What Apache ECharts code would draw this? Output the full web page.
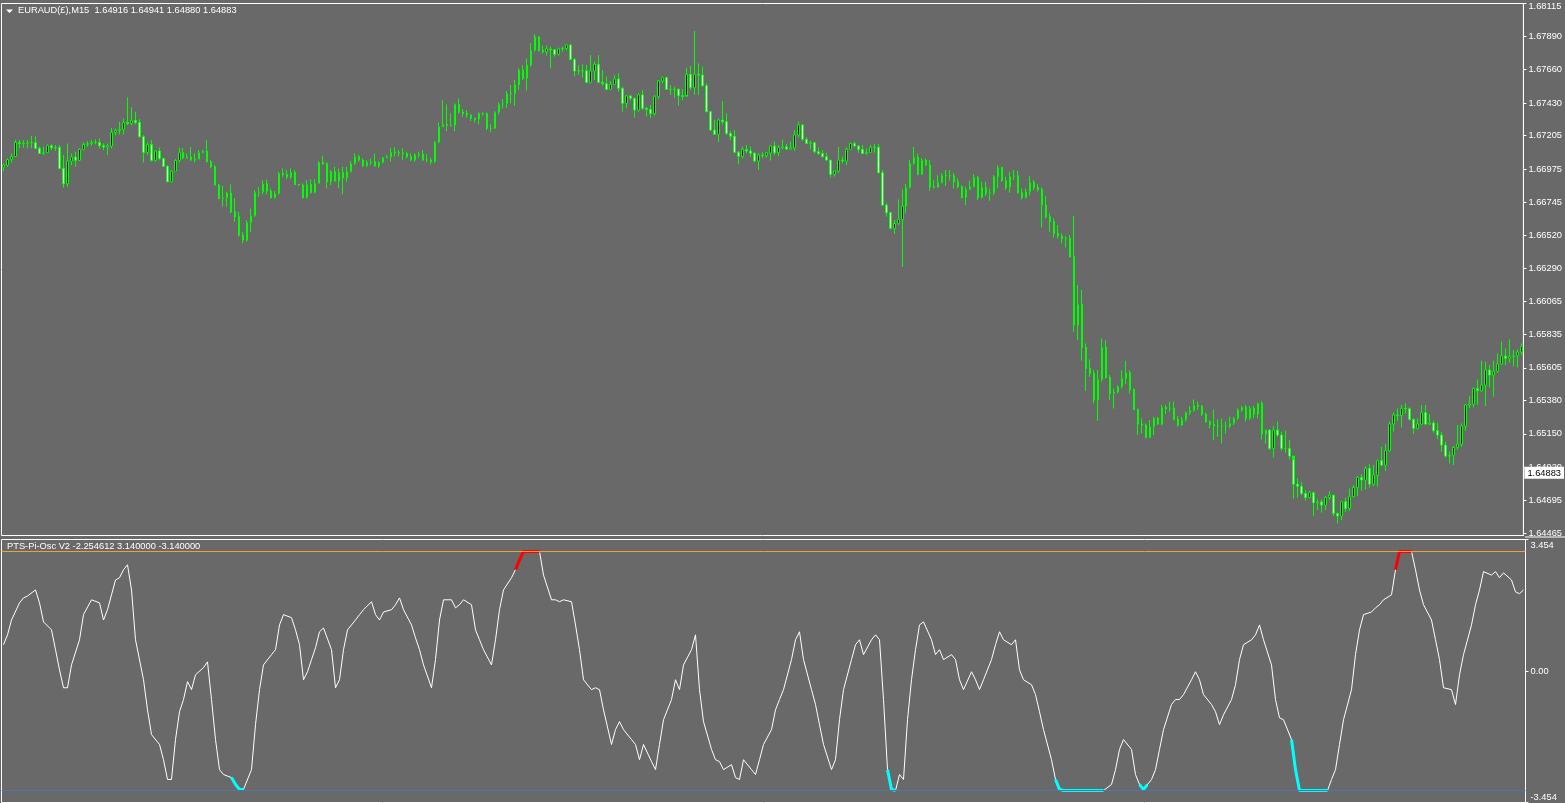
<!DOCTYPE html>
<html><head><meta charset="utf-8">
<script src="https://cdn.jsdelivr.net/npm/echarts@6/dist/echarts.min.js"></script>
<style>html,body{margin:0;padding:0;background:#696969;overflow:hidden}#c{width:1565px;height:803px}</style>
</head><body><div id="c"></div>
<script>
const symbolTitle = 'EURAUD(\u00a3),M15  1.64916 1.64941 1.64880 1.64883';
const oscTitle = 'PTS-Pi-Osc V2 -2.254612 3.140000 -3.140000';
const priceTickLabels = ['1.68115','1.67890','1.67660','1.67430','1.67205','1.66975','1.66745','1.66520','1.66290','1.66065','1.65835','1.65605','1.65380','1.65150','1.64920','1.64695','1.64465'];
const oscTickLabels = ['3.454','0.00','-3.454'];
const oscTickValues = [3.454, 0, -3.454];
const oscLevels = [3.14, -3.14];
const lastPrice = 1.64883;
const firstOpen = 1.66986;

const closes = [
1.67002,1.67039,1.67061,1.67158,1.67151,1.67151,1.67156,1.67156,1.67117,1.67082,
1.67087,1.67135,1.67121,1.67123,1.66979,1.66873,1.67029,1.67057,1.67034,1.67110,
1.67144,1.67151,1.67158,1.67158,1.67135,1.67126,1.67133,1.67227,1.67241,1.67248,
1.67296,1.67289,1.67310,1.67296,1.67197,1.67089,1.67144,1.67034,1.67098,1.67048,
1.66993,1.66887,1.66960,1.67034,1.67087,1.67052,1.67057,1.67036,1.67043,1.67087,
1.67098,1.67025,1.66990,1.66864,1.66772,1.66777,1.66809,1.66680,1.66646,1.66519,
1.66485,1.66607,1.66653,1.66813,1.66818,1.66873,1.66823,1.66777,1.66804,1.66944,
1.66937,1.66919,1.66951,1.66868,1.66864,1.66777,1.66868,1.66813,1.66875,1.67020,
1.67011,1.66887,1.66956,1.66892,1.66951,1.66914,1.66956,1.67013,1.67059,1.67036,
1.66997,1.67020,1.67025,1.66997,1.67020,1.67052,1.67059,1.67090,1.67087,1.67085,
1.67080,1.67060,1.67037,1.67071,1.67076,1.67037,1.67037,1.67025,1.67159,1.67266,
1.67282,1.67276,1.67278,1.67420,1.67365,1.67358,1.67347,1.67324,1.67317,1.67358,
1.67356,1.67255,1.67255,1.67365,1.67420,1.67425,1.67496,1.67494,1.67554,1.67657,
1.67600,1.67691,1.67792,1.67884,1.67792,1.67783,1.67802,1.67797,1.67765,1.67802,
1.67806,1.67829,1.67730,1.67650,1.67652,1.67652,1.67572,1.67650,1.67696,1.67572,
1.67563,1.67524,1.67558,1.67595,1.67531,1.67427,1.67478,1.67462,1.67381,1.67485,
1.67393,1.67386,1.67356,1.67473,1.67581,1.67604,1.67524,1.67524,1.67524,1.67480,
1.67475,1.67627,1.67535,1.67627,1.67622,1.67549,1.67370,1.67243,1.67214,1.67312,
1.67301,1.67220,1.67200,1.67090,1.67062,1.67110,1.67099,1.67083,1.67030,1.67071,
1.67067,1.67085,1.67133,1.67087,1.67124,1.67128,1.67112,1.67121,1.67209,1.67278,
1.67179,1.67151,1.67156,1.67094,1.67082,1.67059,1.67036,1.66938,1.66961,1.67036,
1.67030,1.67110,1.67151,1.67133,1.67110,1.67082,1.67089,1.67124,1.67124,1.66949,
1.66726,1.66674,1.66566,1.66600,1.66628,1.66719,1.66848,1.67013,1.67055,1.66938,
1.67036,1.67002,1.66853,1.66850,1.66880,1.66931,1.66928,1.66928,1.66887,1.66853,
1.66779,1.66834,1.66853,1.66917,1.66779,1.66848,1.66807,1.66811,1.66922,1.66986,
1.66894,1.66848,1.66922,1.66928,1.66811,1.66779,1.66818,1.66880,1.66848,1.66834,
1.66726,1.66646,1.66612,1.66531,1.66513,1.66494,1.66499,1.66370,1.65899,1.66042,
1.65746,1.65601,1.65566,1.65383,1.65525,1.65746,1.65539,1.65429,1.65438,1.65475,
1.65532,1.65571,1.65456,1.65318,1.65218,1.65211,1.65126,1.65199,1.65257,1.65218,
1.65332,1.65323,1.65326,1.65250,1.65211,1.65250,1.65296,1.65310,1.65346,1.65339,
1.65287,1.65234,1.65215,1.65204,1.65204,1.65204,1.65204,1.65222,1.65257,1.65314,
1.65332,1.65257,1.65326,1.65287,1.65360,1.65149,1.65176,1.65050,1.65176,1.65142,
1.65050,1.65050,1.64997,1.64804,1.64790,1.64740,1.64712,1.64744,1.64676,1.64682,
1.64659,1.64712,1.64728,1.64602,1.64584,1.64682,1.64636,1.64717,1.64781,1.64850,
1.64832,1.64912,1.64804,1.64866,1.64965,1.64935,1.65034,1.65218,1.65280,1.65277,
1.65326,1.65323,1.65250,1.65188,1.65218,1.65296,1.65218,1.65225,1.65172,1.65142,
1.65073,1.64997,1.65002,1.65057,1.65080,1.65204,1.65349,1.65356,1.65463,1.65447,
1.65486,1.65590,1.65555,1.65581,1.65631,1.65686,1.65670,1.65682,1.65688,1.65714,1.65751];

const highs = [
1.67013,1.67048,1.67082,1.67174,1.67174,1.67174,1.67174,1.67202,1.67202,1.67128,
1.67128,1.67144,1.67144,1.67140,1.67140,1.67071,1.67151,1.67082,1.67094,1.67117,
1.67158,1.67167,1.67174,1.67179,1.67186,1.67151,1.67151,1.67259,1.67254,1.67300,
1.67323,1.67468,1.67401,1.67369,1.67319,1.67208,1.67158,1.67174,1.67105,1.67123,
1.67052,1.67002,1.66967,1.67043,1.67121,1.67121,1.67082,1.67126,1.67082,1.67105,
1.67105,1.67174,1.67036,1.67002,1.66873,1.66859,1.66818,1.66868,1.66772,1.66680,
1.66542,1.66623,1.66703,1.66829,1.66852,1.66898,1.66901,1.66841,1.66823,1.66956,
1.66979,1.66967,1.66979,1.66967,1.66868,1.66875,1.66898,1.66905,1.66905,1.67029,
1.67066,1.67020,1.66967,1.66990,1.66979,1.66990,1.66990,1.67029,1.67082,1.67071,
1.67048,1.67036,1.67048,1.67082,1.67029,1.67059,1.67071,1.67122,1.67126,1.67106,
1.67117,1.67094,1.67083,1.67083,1.67094,1.67106,1.67076,1.67053,1.67168,1.67296,
1.67450,1.67420,1.67358,1.67427,1.67462,1.67388,1.67381,1.67351,1.67328,1.67365,
1.67365,1.67365,1.67282,1.67374,1.67434,1.67457,1.67512,1.67554,1.67588,1.67668,
1.67691,1.67737,1.67841,1.67903,1.67891,1.67825,1.67825,1.67818,1.67802,1.67811,
1.67818,1.67834,1.67834,1.67737,1.67691,1.67696,1.67691,1.67760,1.67714,1.67760,
1.67657,1.67611,1.67581,1.67622,1.67634,1.67542,1.67485,1.67485,1.67466,1.67496,
1.67519,1.67404,1.67416,1.67485,1.67588,1.67611,1.67611,1.67554,1.67542,1.67531,
1.67526,1.67673,1.67687,1.67926,1.67703,1.67680,1.67565,1.67374,1.67312,1.67324,
1.67443,1.67358,1.67237,1.67243,1.67099,1.67129,1.67140,1.67129,1.67094,1.67083,
1.67090,1.67094,1.67140,1.67163,1.67140,1.67179,1.67147,1.67163,1.67243,1.67301,
1.67285,1.67193,1.67170,1.67163,1.67124,1.67105,1.67087,1.67036,1.66968,1.67128,
1.67059,1.67124,1.67156,1.67163,1.67140,1.67140,1.67117,1.67140,1.67147,1.67147,
1.66968,1.66742,1.66680,1.66623,1.66765,1.66834,1.66871,1.67036,1.67128,1.67082,
1.67048,1.67048,1.67036,1.66899,1.66933,1.66945,1.66968,1.66968,1.66949,1.66910,
1.66864,1.66853,1.66894,1.66940,1.66926,1.66887,1.66887,1.66841,1.66933,1.67002,
1.66990,1.66922,1.66956,1.66968,1.66963,1.66841,1.66841,1.66926,1.66899,1.66871,
1.66848,1.66788,1.66669,1.66635,1.66589,1.66531,1.66513,1.66520,1.66651,1.66175,
1.66141,1.65773,1.65663,1.65589,1.65589,1.65808,1.65796,1.65555,1.65463,1.65486,
1.65589,1.65654,1.65589,1.65463,1.65326,1.65257,1.65222,1.65245,1.65268,1.65268,
1.65349,1.65349,1.65372,1.65372,1.65273,1.65268,1.65303,1.65342,1.65388,1.65372,
1.65349,1.65296,1.65245,1.65319,1.65250,1.65257,1.65234,1.65268,1.65268,1.65326,
1.65342,1.65349,1.65342,1.65342,1.65365,1.65376,1.65181,1.65181,1.65204,1.65234,
1.65165,1.65172,1.65107,1.64970,1.64843,1.64820,1.64763,1.64758,1.64751,1.64699,
1.64699,1.64722,1.64756,1.64728,1.64607,1.64689,1.64712,1.64774,1.64797,1.64859,
1.64873,1.64928,1.64942,1.64935,1.64974,1.65061,1.65080,1.65234,1.65296,1.65326,
1.65349,1.65360,1.65332,1.65257,1.65257,1.65349,1.65349,1.65287,1.65241,1.65227,
1.65165,1.65096,1.65027,1.65066,1.65211,1.65222,1.65356,1.65411,1.65470,1.65525,
1.65654,1.65647,1.65624,1.65654,1.65705,1.65785,1.65739,1.65801,1.65728,1.65732,1.65774];

const lows = [
1.66960,1.66990,1.67020,1.67059,1.67117,1.67121,1.67117,1.67117,1.67112,1.67078,
1.67071,1.67089,1.67105,1.67100,1.66974,1.66846,1.66852,1.67002,1.66990,1.67029,
1.67103,1.67128,1.67135,1.67144,1.67117,1.67105,1.67071,1.67117,1.67208,1.67213,
1.67213,1.67277,1.67277,1.67282,1.67190,1.67020,1.67071,1.67025,1.67025,1.67034,
1.66988,1.66882,1.66882,1.66960,1.67020,1.67043,1.67048,1.67029,1.67020,1.67043,
1.67082,1.67020,1.66979,1.66859,1.66767,1.66715,1.66715,1.66669,1.66611,1.66508,
1.66462,1.66473,1.66542,1.66646,1.66784,1.66800,1.66800,1.66772,1.66772,1.66800,
1.66921,1.66905,1.66905,1.66864,1.66859,1.66772,1.66772,1.66806,1.66806,1.66875,
1.67002,1.66841,1.66864,1.66887,1.66841,1.66800,1.66887,1.66951,1.67002,1.67025,
1.66990,1.66990,1.67002,1.66990,1.66983,1.67013,1.67048,1.67025,1.67060,1.67060,
1.67037,1.67048,1.67030,1.67025,1.67053,1.67030,1.67021,1.67007,1.67016,1.67152,
1.67266,1.67235,1.67266,1.67235,1.67358,1.67335,1.67328,1.67305,1.67296,1.67282,
1.67342,1.67243,1.67227,1.67250,1.67351,1.67393,1.67397,1.67427,1.67411,1.67519,
1.67588,1.67515,1.67680,1.67783,1.67783,1.67769,1.67756,1.67668,1.67749,1.67756,
1.67783,1.67792,1.67726,1.67611,1.67622,1.67604,1.67565,1.67565,1.67588,1.67565,
1.67549,1.67517,1.67519,1.67554,1.67508,1.67370,1.67393,1.67450,1.67328,1.67370,
1.67381,1.67335,1.67324,1.67342,1.67457,1.67565,1.67519,1.67485,1.67466,1.67411,
1.67450,1.67485,1.67519,1.67485,1.67485,1.67542,1.67365,1.67237,1.67209,1.67159,
1.67282,1.67209,1.67175,1.67083,1.67007,1.67048,1.67083,1.67060,1.67021,1.66968,
1.67048,1.67053,1.67032,1.67071,1.67064,1.67110,1.67105,1.67110,1.67101,1.67193,
1.67170,1.67147,1.67110,1.67082,1.67071,1.67055,1.67032,1.66917,1.66922,1.66949,
1.67013,1.67002,1.67105,1.67124,1.67087,1.67078,1.67071,1.67087,1.67087,1.66945,
1.66720,1.66646,1.66559,1.66527,1.66589,1.66301,1.66669,1.66841,1.67002,1.66931,
1.66933,1.66995,1.66825,1.66841,1.66848,1.66880,1.66857,1.66894,1.66841,1.66841,
1.66772,1.66726,1.66830,1.66848,1.66761,1.66772,1.66788,1.66756,1.66795,1.66841,
1.66887,1.66830,1.66811,1.66899,1.66807,1.66765,1.66772,1.66795,1.66830,1.66818,
1.66572,1.66635,1.66543,1.66504,1.66497,1.66462,1.66435,1.66366,1.65854,1.65796,
1.65654,1.65447,1.65543,1.65360,1.65240,1.65509,1.65532,1.65383,1.65325,1.65429,
1.65463,1.65493,1.65429,1.65314,1.65142,1.65153,1.65119,1.65119,1.65142,1.65211,
1.65211,1.65286,1.65303,1.65241,1.65199,1.65204,1.65234,1.65280,1.65303,1.65314,
1.65273,1.65227,1.65188,1.65107,1.65130,1.65084,1.65153,1.65188,1.65211,1.65245,
1.65303,1.65234,1.65245,1.65257,1.65257,1.65112,1.65084,1.65038,1.64988,1.65130,
1.65034,1.65020,1.64974,1.64705,1.64712,1.64728,1.64689,1.64705,1.64584,1.64625,
1.64607,1.64625,1.64694,1.64584,1.64533,1.64556,1.64613,1.64620,1.64712,1.64721,
1.64758,1.64767,1.64781,1.64790,1.64786,1.64928,1.64896,1.65027,1.65165,1.65241,
1.65195,1.65291,1.65241,1.65149,1.65181,1.65211,1.65211,1.65211,1.65158,1.65112,
1.65027,1.64988,1.64947,1.64935,1.65043,1.65061,1.65172,1.65326,1.65332,1.65349,
1.65441,1.65342,1.65470,1.65406,1.65571,1.65624,1.65624,1.65640,1.65617,1.65608,1.65693];

// oscillator readings: [bar index, value]
const oscLine = [[0,0.69],[1,0.95],[2,1.34],[4,1.79],[5,1.92],[6,1.97],[8,2.13],[9,1.79],[10,1.29],[12,1.08],[13,0.56],[14,0.03],[15,-0.44],[16,-0.44],[17,0.16],[19,0.82],[20,1.48],[22,1.87],[24,1.79],[25,1.34],[26,1.61],[27,2.00],[28,2.39],[29,2.45],[30,2.66],[31,2.79],[32,2.13],[33,0.82],[35,-0.23],[36,-1.02],[37,-1.67],[39,-1.93],[40,-2.33],[41,-2.85],[42,-2.85],[43,-1.80],[44,-1.07],[45,-0.75],[46,-0.28],[47,-0.49],[48,-0.10],[50,0.09],[51,0.24],[52,-0.75],[53,-1.80],[54,-2.59],[55,-2.72],[57,-2.80],[58,-2.98],[59,-3.11],[60,-3.11],[62,-2.59],[63,-1.41],[64,-0.49],[65,0.16],[67,0.43],[68,0.56],[69,1.21],[70,1.48],[72,1.40],[73,1.08],[74,0.69],[75,-0.23],[76,-0.02],[77,0.30],[78,0.61],[79,1.03],[80,1.13],[82,0.56],[83,-0.44],[84,-0.23],[85,0.56],[86,1.08],[87,1.21],[88,1.34],[89,1.48],[90,1.61],[92,1.82],[93,1.48],[94,1.34],[95,1.55],[97,1.61],[98,1.74],[99,1.92],[100,1.61],[102,1.21],[103,0.87],[104,0.56],[105,0.16],[107,-0.44],[108,0.30],[109,1.34],[110,1.87],[112,1.87],[113,1.66],[114,1.74],[115,1.87],[117,1.74],[118,1.08],[119,0.82],[120,0.56],[122,0.16],[123,0.82],[124,1.61],[125,2.13],[127,2.45],[128,2.66],[129,2.92],[130,3.14],[134,3.14],[135,2.52],[137,1.87],[138,1.87],[139,1.82],[140,1.87],[142,1.82],[143,1.21],[144,0.56],[145,-0.23],[147,-0.49],[148,-0.44],[149,-0.49],[150,-1.02],[152,-1.93],[153,-1.54],[154,-1.33],[155,-1.54],[157,-1.80],[158,-1.93],[159,-2.33],[160,-1.93],[162,-2.38],[163,-2.59],[164,-1.93],[165,-1.28],[167,-0.75],[168,-0.23],[169,-0.49],[170,0.16],[172,0.56],[173,0.95],[174,-0.49],[175,-1.33],[177,-2.06],[178,-2.33],[179,-2.38],[180,-2.59],[182,-2.46],[183,-2.80],[184,-2.85],[185,-2.33],[187,-2.59],[188,-2.72],[189,-2.33],[190,-1.93],[192,-1.54],[193,-1.02],[194,-0.75],[195,-0.49],[197,0.30],[198,0.82],[199,1.03],[200,0.30],[202,-0.49],[203,-0.88],[204,-1.41],[205,-1.93],[207,-2.59],[208,-2.33],[209,-1.28],[210,-0.49],[212,0.30],[213,0.69],[214,0.82],[215,0.43],[217,0.82],[218,0.95],[219,0.82],[220,-0.75],[221,-2.59],[222,-3.11],[223,-3.14],[224,-2.72],[225,-2.85],[226,-1.28],[227,-0.23],[228,0.56],[229,1.21],[230,1.29],[232,0.82],[233,0.43],[234,0.56],[235,0.30],[237,0.43],[238,0.30],[239,-0.23],[240,-0.49],[242,-0.02],[243,-0.23],[244,-0.49],[245,-0.23],[247,0.30],[248,0.69],[249,1.03],[250,0.82],[252,0.69],[253,0.82],[254,0.03],[255,-0.23],[257,-0.36],[258,-0.62],[259,-1.07],[260,-1.54],[262,-2.33],[263,-2.85],[264,-3.11],[265,-3.14],[275,-3.14],[277,-2.98],[278,-2.59],[279,-2.06],[280,-1.80],[282,-2.06],[283,-2.72],[284,-2.98],[285,-3.11],[287,-2.85],[288,-2.59],[289,-2.06],[290,-1.54],[292,-0.88],[293,-0.75],[294,-0.75],[295,-0.62],[297,-0.23],[298,-0.02],[299,-0.23],[300,-0.62],[302,-0.88],[303,-1.07],[304,-1.41],[305,-1.15],[307,-0.75],[308,-0.36],[309,0.30],[310,0.69],[312,0.82],[313,0.95],[314,1.21],[315,0.82],[317,0.16],[318,-0.75],[319,-1.23],[320,-1.28],[322,-1.80],[323,-2.59],[324,-3.14],[331,-3.14],[332,-2.85],[333,-2.59],[334,-1.93],[335,-1.28],[337,-0.49],[338,0.43],[339,1.08],[340,1.48],[342,1.55],[343,1.66],[344,1.74],[345,1.87],[347,2.00],[348,2.66],[349,3.14],[352,3.14],[353,2.66],[354,2.13],[355,1.74],[357,1.34],[358,0.82],[359,0.30],[360,-0.44],[362,-0.49],[363,-0.88],[364,-0.10],[365,0.43],[367,1.21],[368,1.74],[369,2.13],[370,2.61],[372,2.52],[373,2.61],[374,2.45],[375,2.58],[377,2.39],[378,2.08],[379,2.03],[380,2.13]];
const oscHighSegments = [
  [[128,2.66],[129,2.92],[130,3.14],[134,3.14]],
  [[348,2.66],[349,3.14],[352,3.14]]
];
const oscLowSegments = [
  [[57,-2.80],[58,-2.98],[59,-3.11],[60,-3.11]],
  [[221,-2.59],[222,-3.11],[223,-3.14]],
  [[263,-2.85],[264,-3.11],[265,-3.14],[275,-3.14]],
  [[284,-2.98],[285,-3.11],[286,-2.98]],
  [[322,-1.80],[323,-2.59],[324,-3.14],[331,-3.14]]
];

const FONT = 'Liberation Sans';
const FS = 9.3;
const categories = closes.map((_, i) => i);
const candles = closes.map((c, i) => [i === 0 ? firstOpen : closes[i - 1], c, lows[i], highs[i]]);
const priceTicks = priceTickLabels.map(Number);

const chart = echarts.init(document.getElementById('c'), null, {renderer: 'canvas'});
const series = [{
  type: 'candlestick', xAxisIndex: 0, yAxisIndex: 0, data: candles, barWidth: 2,
  itemStyle: {color: '#000000', color0: '#ffffff', borderColor: '#00ff00', borderColor0: '#00ff00', borderWidth: 1}
}, {
  type: 'line', xAxisIndex: 1, yAxisIndex: 1, data: oscLine, symbol: 'none',
  lineStyle: {color: '#ffffff', width: 1}, z: 3,
  markLine: {silent: true, symbol: 'none', animation: false, label: {show: false},
    data: [{yAxis: oscLevels[0], lineStyle: {color: '#e9a33c', width: 1, type: 'solid'}},
           {yAxis: oscLevels[1], lineStyle: {color: '#4d78a6', width: 1, type: 'solid'}}]}
}];
oscHighSegments.forEach(seg => series.push({type: 'line', xAxisIndex: 1, yAxisIndex: 1, data: seg, symbol: 'none', lineStyle: {color: '#ff0000', width: 3}, z: 4}));
oscLowSegments.forEach(seg => series.push({type: 'line', xAxisIndex: 1, yAxisIndex: 1, data: seg, symbol: 'none', lineStyle: {color: '#00ffff', width: 3}, z: 4}));

const labelBase = {color: '#ffffff', fontFamily: FONT, fontSize: FS};
chart.setOption({
  animation: false,
  backgroundColor: '#696969',
  axisPointer: {triggerOn: 'none'},
  grid: [
    {left: 1.5, right: 39.5, top: 3.5, height: 532, show: true, borderColor: '#ffffff', borderWidth: 1},
    {left: 1.5, right: 39.5, top: 539.5, height: 263, show: true, borderColor: '#ffffff', borderWidth: 1}
  ],
  xAxis: [0, 1].map(g => ({type: 'category', gridIndex: g, data: categories, boundaryGap: true,
    axisLine: {show: false}, axisTick: {show: false}, axisLabel: {show: false}, splitLine: {show: false}})),
  yAxis: [{
    type: 'value', gridIndex: 0, position: 'right', min: 1.64450, max: 1.68115, scale: true,
    axisLine: {show: true, lineStyle: {color: '#ffffff'}},
    axisTick: {show: true, customValues: priceTicks, length: 3, lineStyle: {color: '#ffffff'}},
    splitLine: {show: false},
    axisPointer: {show: true, type: 'line', value: lastPrice, status: 'show', triggerTooltip: false,
      lineStyle: {color: 'transparent', width: 0},
      label: {show: true, formatter: p => lastPrice.toFixed(5), backgroundColor: '#ffffff', color: '#000000',
        padding: [2, 3, 1, 3], margin: 1, fontFamily: FONT, fontSize: FS, borderRadius: 0, shadowBlur: 0}},
    axisLabel: Object.assign({}, labelBase, {customValues: priceTicks, margin: 5,
      formatter: v => { const s = priceTickLabels[priceTicks.indexOf(v)] || v.toFixed(5); return v === priceTicks[0] ? '{t|' + s + '}' : s; },
      rich: {t: Object.assign({}, labelBase, {padding: [6, 0, 0, 0]})}})
  }, {
    type: 'value', gridIndex: 1, position: 'right', min: -3.454, max: 3.454,
    axisLine: {show: true, lineStyle: {color: '#ffffff'}},
    axisTick: {show: true, customValues: oscTickValues, length: 3, lineStyle: {color: '#ffffff'}},
    splitLine: {show: false},
    axisLabel: Object.assign({}, labelBase, {customValues: oscTickValues, margin: 5,
      formatter: v => { const k = oscTickValues.indexOf(v); const s = oscTickLabels[k]; return k === 0 ? '{t|' + s + '}' : (k === 2 ? '{b|' + s + '}' : s); },
      rich: {t: Object.assign({}, labelBase, {padding: [11, 0, 0, 0]}), b: Object.assign({}, labelBase, {padding: [0, 0, 11, 0]})}})
  }],
  graphic: [
    {type: 'polygon', shape: {points: [[6, 9.5], [13, 9.5], [9.5, 13]]}, style: {fill: '#ffffff'}},
    {type: 'text', left: 18, top: 6, style: {text: symbolTitle, fill: '#ffffff', font: FS + 'px "' + FONT + '"'}},
    {type: 'text', left: 7, top: 542, style: {text: oscTitle, fill: '#ffffff', font: FS + 'px "' + FONT + '"'}},
    {type: 'line', shape: {x1: 1525, y1: 537, x2: 1565, y2: 537}, style: {stroke: '#ffffff', lineWidth: 1}}
  ],
  series: series
});
</script></body></html>
